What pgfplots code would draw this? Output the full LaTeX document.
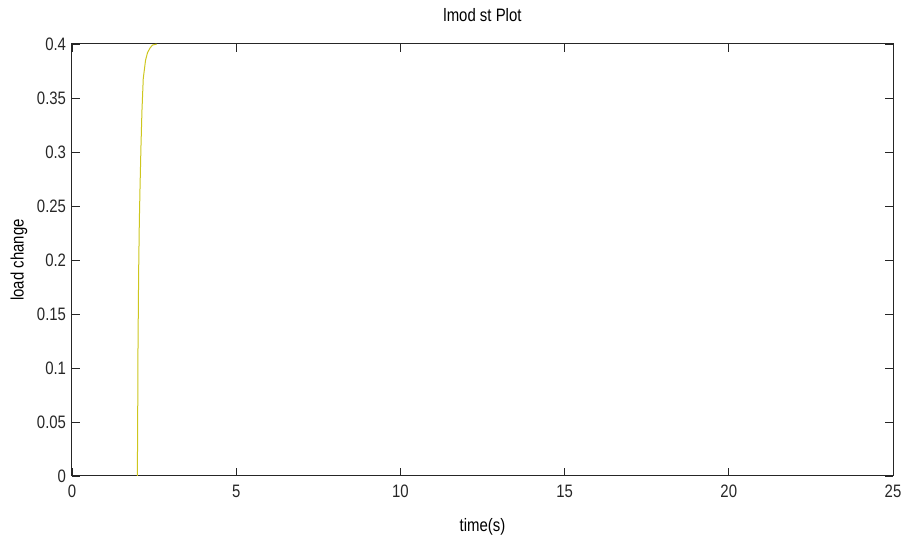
\documentclass[border=0pt]{standalone}
\usepackage{pgfplots}
\pgfplotsset{compat=1.18}
\usepackage{fontspec}
\setmainfont{Liberation Sans}
\definecolor{curve}{RGB}{205,198,30}
\begin{document}
\begin{tikzpicture}[x=1pt,y=1pt]
\begin{axis}[
  scale only axis,
  width=821pt, height=432pt,
  xmin=0, xmax=25, ymin=0, ymax=0.4,
  xtick={0,5,...,25},
  ytick={0,0.05,...,0.4},
  yticklabels={0,0.05,0.1,0.15,0.2,0.25,0.3,0.35,0.4},
  tick align=inside,
  tick pos=both,
  major tick length=8pt,
  axis line style={line width=1pt, color=black!85},
  every tick/.style={line width=0.8pt, color=black!85},
  tick label style={font=\fontsize{18}{20}\selectfont, color=black!85, xscale=0.83, inner sep=0pt},
  /pgf/number format/assume math mode=true,
  xticklabel style={anchor=center, yshift=-15.5pt},
  yticklabel style={anchor=east, xshift=-7pt},
  title={lmod st Plot},
  title style={font=\fontsize{18}{20}\selectfont, xscale=0.83, at={(axis description cs:0.5,1)}, anchor=center, yshift=23pt, inner sep=0pt},
  xlabel={time(s)},
  ylabel={load change},
  label style={font=\fontsize{18}{20}\selectfont, xscale=0.83, inner sep=0pt},
  xlabel style={at={(axis description cs:0.5,0)}, anchor=center, yshift=-51pt},
  ylabel style={at={(axis description cs:0,0.5)}, anchor=center, rotate=0, yshift=53pt},
]
\addplot[color=curve, line width=1pt] coordinates {
(1.99,0) (2.0,0.05) (2.01,0.12) (2.03,0.19) (2.05,0.235) (2.07,0.265)
(2.1,0.305) (2.13,0.338) (2.17,0.368) (2.24,0.385) (2.3,0.392) (2.37,0.396)
(2.45,0.399) (2.58,0.4)
};
\end{axis}
\path[use as bounding box] ([shift={(-72pt,-59pt)}]current axis.south west) rectangle ([shift={(11pt,44pt)}]current axis.north east);
\end{tikzpicture}
\end{document}
